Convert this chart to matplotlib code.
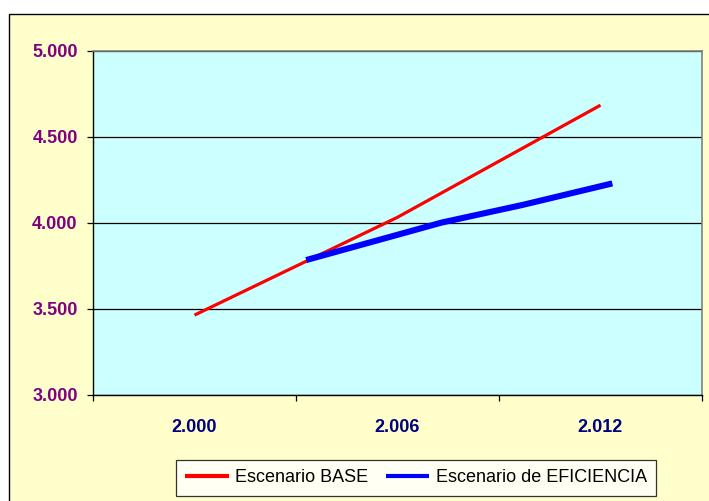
import matplotlib
matplotlib.use("Agg")
import matplotlib.pyplot as plt
from matplotlib.patches import Rectangle

# Consumption projection, two scenarios (x in years)
base_years = [2000.0, 2006.0, 2012.0]
base_values = [3462, 4031, 4683]
efic_years = [2003.3, 2007.3, 2009.7, 2012.35]
efic_values = [3782, 4000, 4103, 4228]

year_labels = [2000, 2006, 2012]
year_bounds = [1997, 2003, 2009, 2015]
y_ticks = [3000, 3500, 4000, 4500, 5000]


def fmt_thousands(v):
    return f"{v:,.0f}".replace(",", ".")


W, H = 709, 501
fig = plt.figure(figsize=(W / 100, H / 100), dpi=100, facecolor="white")
plt.rcParams["font.family"] = ["Liberation Sans", "DejaVu Sans"]

# chart area frame (yellow background with black border)
frame = Rectangle((9 / W, -0.01), 1.0, 1 - 14 / H + 0.01,
                  transform=fig.transFigure, facecolor="#FFFFCC",
                  edgecolor="black", linewidth=1.0, zorder=-5)
fig.patches.append(frame)

ax = fig.add_axes([93 / W, 1 - 394.5 / H, 609 / W, 343.8 / H])
ax.set_zorder(1)
ax.set_facecolor("#CCFFFF")

ax.plot(base_years, base_values, color="#FF0000", lw=2.3,
        solid_capstyle="butt", label="Escenario BASE", zorder=3)
ax.plot(efic_years, efic_values, color="#0000FF", lw=4.4,
        solid_capstyle="butt", label="Escenario de EFICIENCIA", zorder=3)

ax.set_xlim(year_bounds[0], year_bounds[-1])
ax.set_ylim(y_ticks[0], y_ticks[-1])

ax.set_yticks(y_ticks)
ax.set_yticklabels([fmt_thousands(v) for v in y_ticks])
ax.yaxis.grid(True, color="black", lw=0.9)
ax.set_axisbelow(True)

ax.set_xticks(year_labels)
ax.set_xticklabels([fmt_thousands(v) for v in year_labels])
ax.set_xticks(year_bounds, minor=True)

ax.tick_params(axis="y", direction="out", length=4, width=0.9, color="black",
               labelsize=13, labelcolor="#800080", pad=7)
ax.tick_params(axis="x", which="major", length=0, labelsize=13,
               labelcolor="#000080", pad=18)
ax.tick_params(axis="x", which="minor", direction="out", length=4,
               width=0.9, color="black")
for lbl in ax.get_yticklabels() + ax.get_xticklabels():
    lbl.set_fontweight("bold")

for side in ("top", "right"):
    ax.spines[side].set_color("#808080")
    ax.spines[side].set_linewidth(1.2)
for side in ("left", "bottom"):
    ax.spines[side].set_color("black")
    ax.spines[side].set_linewidth(1.0)

leg = fig.legend(loc="center", bbox_to_anchor=(416 / W, 1 - 478 / H),
                 ncol=2, frameon=True, fancybox=False, fontsize=13,
                 handlelength=2.4, handletextpad=0.35, columnspacing=1.0,
                 borderpad=0.5, borderaxespad=0)
leg.set_zorder(5)
leg.get_frame().set_edgecolor("black")
leg.get_frame().set_facecolor("white")
leg.get_frame().set_linewidth(0.9)
for line in leg.get_lines():
    line.set_linewidth(3)

fig.savefig("out.png", dpi=100, facecolor="white")
